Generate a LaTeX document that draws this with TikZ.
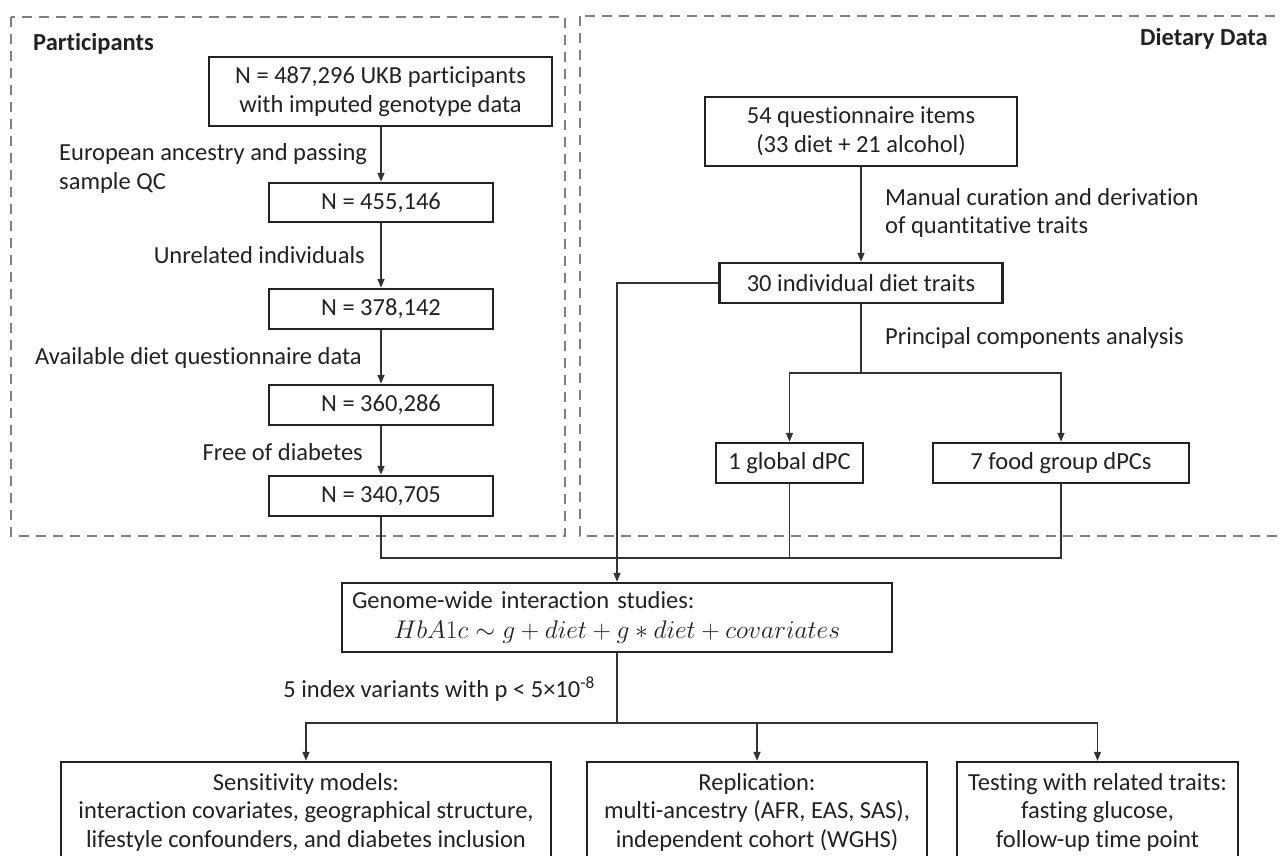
\RequirePackage{fix-cm}
\documentclass[tikz,border=0pt]{standalone}
\usepackage{fontspec}
\setmainfont[Ligatures=NoCommon]{Carlito}
\usetikzlibrary{arrows.meta}
\definecolor{txt}{HTML}{222222}
\definecolor{boxc}{HTML}{222222}
\definecolor{linec}{HTML}{333333}
\definecolor{dashc}{HTML}{7F7F7F}
\begin{document}
\begin{tikzpicture}[x=1pt,y=-1pt,
 every node/.style={font=\fontsize{24.5}{28.5}\selectfont, text=txt},
 box/.style={draw=boxc, line width=2.4pt, align=center, inner sep=0pt},
 conn/.style={draw=linec, line width=1.5pt},
 arr/.style={conn, -{Triangle[length=9pt,width=7pt]}},
 dbox/.style={draw=dashc, line width=2.8pt, dash pattern=on 10pt off 7pt},
 lbl/.style={inner sep=0pt},
 hdr/.style={inner sep=0pt, font=\fontsize{24.5}{28.5}\selectfont\bfseries}
]
\path[use as bounding box, fill=white] (0,0) rectangle (1280,856);
\clip (0,0) rectangle (1280,856);

% dashed regions
\draw[dbox] (11,17) rectangle (565,536);
\draw[dbox] (580,16) rectangle (1300,536);
\node[hdr, anchor=west] (hp) at (33,44) {Participants};
\node[hdr, anchor=east] (hd) at (1268,39) {Dietary Data};

% participants column
\node[box, minimum width=343pt, minimum height=69pt] (b1) at (380.5,91.5) {N = 487,296 UKB participants\\with imputed genotype data};
\node[box, minimum width=224pt, minimum height=39pt] (b2) at (381,202.5) {N = 455,146};
\node[box, minimum width=224pt, minimum height=40pt] (b3) at (381,309) {N = 378,142};
\node[box, minimum width=224pt, minimum height=40pt] (b4) at (381,405) {N = 360,286};
\node[box, minimum width=224pt, minimum height=40pt] (b5) at (381,496) {N = 340,705};

\node[lbl, anchor=west, align=left] (l1) at (59,168.5) {European ancestry and passing\\sample QC};
\node[lbl, anchor=east] (l2) at (365,255) {Unrelated individuals};
\node[lbl, anchor=east] (l3) at (362,358) {Available diet questionnaire data};
\node[lbl, anchor=east] (l4) at (363,452) {Free of diabetes};

\draw[arr] (b1.south -| b2.north) -- (b2.north);
\draw[arr] (b2) -- (b3);
\draw[arr] (b3) -- (b4);
\draw[arr] (b4) -- (b5);

% dietary column
\node[box, minimum width=312pt, minimum height=69pt] (q) at (861,131.5) {54 questionnaire items\\(33 diet + 21 alcohol)};
\node[box, minimum width=283pt, minimum height=40pt] (t) at (861,283) {30 individual diet traits};
\node[box, minimum width=147pt, minimum height=40pt] (g) at (789.5,463) {1 global dPC};
\node[box, minimum width=256pt, minimum height=40pt] (f) at (1061,463) {7 food group dPCs};

\node[lbl, anchor=west, align=left] (l5) at (885,213) {Manual curation and derivation\\of quantitative traits};
\node[lbl, anchor=west] (l6) at (885,338) {Principal components analysis};

\draw[arr] (q) -- (t);
\coordinate (sp) at (861,373);
\draw[conn] (t.south) -- (sp);
\draw[arr] (sp) -| (g.north);
\draw[arr] (sp) -| (f.north);

% genome-wide box
\node[box, minimum width=550pt, minimum height=69pt, text width=530pt, font=\fontsize{24.5}{30}\selectfont] (gw) at (617,617.5)
 {\makebox[530pt][l]{Genome-wide interaction studies:}\\\mbox{\fontsize{25.5}{30}\selectfont$HbA1c \sim g + diet + g * diet + covariates$}};

\coordinate (m) at (617,558);
\draw[conn] (b5.south) |- (m);
\draw[conn] (f.south) |- (m);
\draw[conn] (g.south) -- (g.south |- m);
\draw[arr] (t.west) -| (gw.north);

\node[lbl, anchor=east] (l7) at (595,689) {5 index variants with p < 5×10\textsuperscript{-8}};

% bottom boxes
\node[box, minimum width=490pt, minimum height=100pt] (s) at (306,812) {Sensitivity models:\\interaction covariates, geographical structure,\\lifestyle confounders, and diabetes inclusion};
\node[box, minimum width=340pt, minimum height=100pt] (r) at (757,812) {Replication:\\multi-ancestry (AFR, EAS, SAS),\\independent cohort (WGHS)};
\node[box, minimum width=281pt, minimum height=100pt] (tt) at (1097.5,812) {Testing with related traits:\\fasting glucose,\\follow-up time point};

\coordinate (s2) at (617,723);
\draw[conn] (gw.south) -- (s2);
\draw[arr] (s2) -| (s.north);
\draw[arr] (s2) -| (r.north);
\draw[arr] (s2) -| (tt.north);
\end{tikzpicture}
\end{document}
